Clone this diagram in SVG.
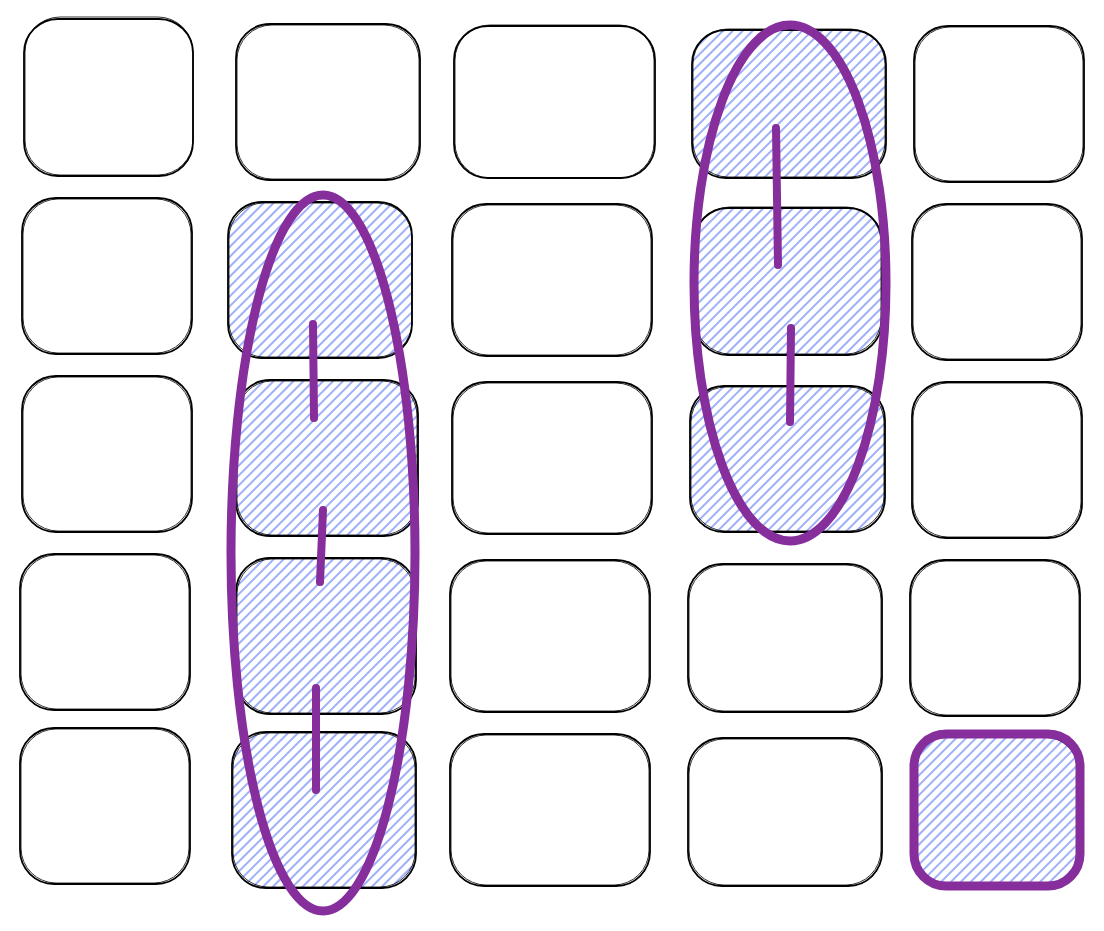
<svg xmlns="http://www.w3.org/2000/svg" width="1104" height="931" viewBox="0 0 1104 931">
<defs>
<pattern id="hatch" patternUnits="userSpaceOnUse" width="7" height="7" patternTransform="rotate(45)">
<line x1="1" y1="0" x2="1" y2="7" stroke="#4c6ef5" stroke-width="1.1"/>
</pattern>
</defs>
<style>
.b{fill:none;stroke:#000;stroke-width:1.8}
.s{fill:none;stroke:#000;stroke-width:1;opacity:0.8}
.h{fill:url(#hatch);stroke:none}
.p{fill:none;stroke:#862e9c;stroke-width:9;stroke-linecap:round}
.l{fill:none;stroke:#862e9c;stroke-width:8;stroke-linecap:round}
</style>
<rect width="1104" height="931" fill="#fff"/>
<g id="nodes">
<g id="n11"><rect class="b" x="24" y="19" width="169" height="157" rx="34"/><rect class="s" x="25" y="17" width="168" height="158" rx="35"/></g>
<g id="n12"><rect class="b" x="236" y="24" width="184" height="156" rx="34"/><rect class="s" x="237" y="25" width="182" height="154" rx="35"/></g>
<g id="n13"><rect class="b" x="454" y="26" width="201" height="152" rx="34"/><rect class="s" x="455" y="25" width="199" height="153" rx="35"/></g>
<g id="n14"><rect class="h" x="692" y="30" width="194" height="148" rx="34"/><rect class="b" x="692" y="30" width="194" height="148" rx="34"/><rect class="s" x="693" y="29" width="192" height="148" rx="35"/></g>
<g id="n15"><rect class="b" x="914" y="26" width="170" height="156" rx="34"/><rect class="s" x="915" y="27" width="168" height="154" rx="35"/></g>

<g id="n21"><rect class="b" x="22" y="198" width="170" height="156" rx="34"/><rect class="s" x="23" y="199" width="168" height="154" rx="35"/></g>
<g id="n22"><rect class="h" x="228" y="202" width="184" height="156" rx="34"/><rect class="b" x="228" y="202" width="184" height="156" rx="34"/><rect class="s" x="229" y="203" width="183" height="154" rx="35"/></g>
<g id="n23"><rect class="b" x="452" y="204" width="200" height="152" rx="34"/><rect class="s" x="453" y="205" width="198" height="150" rx="35"/></g>
<g id="n24"><rect class="h" x="694" y="208" width="188" height="147" rx="34"/><rect class="b" x="694" y="208" width="188" height="147" rx="34"/><rect class="s" x="695" y="207" width="186" height="147" rx="35"/></g>
<g id="n25"><rect class="b" x="912" y="204" width="170" height="156" rx="34"/><rect class="s" x="913" y="205" width="168" height="154" rx="35"/></g>

<g id="n31"><rect class="b" x="22" y="376" width="170" height="156" rx="34"/><rect class="s" x="23" y="377" width="168" height="154" rx="35"/></g>
<g id="n32"><rect class="h" x="236" y="380" width="182" height="156" rx="34"/><rect class="b" x="236" y="380" width="182" height="156" rx="34"/><rect class="s" x="237" y="381" width="180" height="154" rx="35"/></g>
<g id="n33"><rect class="b" x="452" y="382" width="200" height="152" rx="34"/><rect class="s" x="453" y="383" width="198" height="150" rx="35"/></g>
<g id="n34"><rect class="h" x="690" y="386" width="195" height="146" rx="34"/><rect class="b" x="690" y="386" width="195" height="146" rx="34"/><rect class="s" x="691" y="387" width="193" height="144" rx="35"/></g>
<g id="n35"><rect class="b" x="912" y="382" width="170" height="156" rx="34"/><rect class="s" x="913" y="383" width="168" height="154" rx="35"/></g>

<g id="n41"><rect class="b" x="20" y="554" width="170" height="156" rx="34"/><rect class="s" x="21" y="555" width="168" height="154" rx="35"/></g>
<g id="n42"><rect class="h" x="236" y="558" width="180" height="156" rx="34"/><rect class="b" x="236" y="558" width="180" height="156" rx="34"/><rect class="s" x="237" y="559" width="178" height="154" rx="35"/></g>
<g id="n43"><rect class="b" x="450" y="560" width="200" height="152" rx="34"/><rect class="s" x="451" y="561" width="198" height="150" rx="35"/></g>
<g id="n44"><rect class="b" x="688" y="564" width="194" height="148" rx="34"/><rect class="s" x="689" y="565" width="192" height="146" rx="35"/></g>
<g id="n45"><rect class="b" x="910" y="560" width="170" height="156" rx="34"/><rect class="s" x="911" y="561" width="168" height="154" rx="35"/></g>

<g id="n51"><rect class="b" x="20" y="728" width="170" height="156" rx="34"/><rect class="s" x="21" y="729" width="168" height="154" rx="35"/></g>
<g id="n52"><rect class="h" x="232" y="732" width="184" height="156" rx="34"/><rect class="b" x="232" y="732" width="184" height="156" rx="34"/><rect class="s" x="233" y="733" width="182" height="154" rx="35"/></g>
<g id="n53"><rect class="b" x="450" y="734" width="200" height="152" rx="34"/><rect class="s" x="451" y="735" width="198" height="150" rx="35"/></g>
<g id="n54"><rect class="b" x="688" y="738" width="194" height="148" rx="34"/><rect class="s" x="689" y="739" width="192" height="146" rx="35"/></g>
<g id="n55"><rect class="h" x="914" y="734" width="166" height="152" rx="32"/><rect class="b" x="912" y="737" width="166" height="150" rx="32" stroke-width="3"/><rect x="914" y="734" width="166" height="152" rx="32" fill="none" stroke="#862e9c" stroke-width="9"/></g>
</g>
<g id="highlights">
<ellipse class="p" cx="323" cy="553" rx="92" ry="358"/>
<ellipse class="p" cx="790" cy="283" rx="96" ry="258"/>
</g>
<g id="connectors">
<path class="l" d="M313 324 L314 418"/>
<path class="l" d="M323 510 L320 582"/>
<path class="l" d="M316 688 L316 790"/>
<path class="l" d="M776 128 L778 265"/>
<path class="l" d="M791 328 L790 422"/>
</g>
</svg>
